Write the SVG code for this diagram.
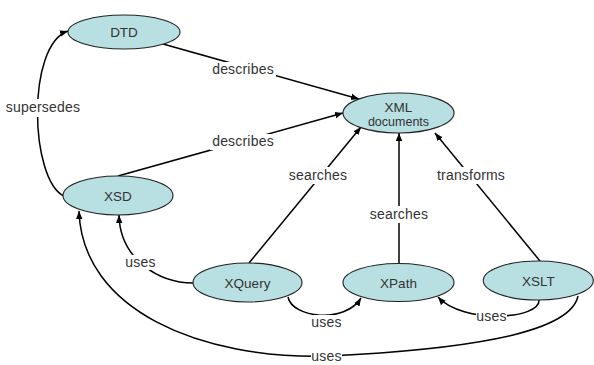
<svg xmlns="http://www.w3.org/2000/svg" width="594" height="365" viewBox="0 0 594 365">
<style>
.node ellipse{fill:#b8dfe2;stroke:#222;stroke-width:1.1}
.node text{font-family:"Liberation Sans",Arial,sans-serif;font-size:13.5px;fill:#333;text-anchor:middle}
.edges path{fill:none;stroke:#000;stroke-width:1.5;marker-end:url(#arr)}
.lbl rect{fill:#fff}
.lbl text{font-family:"Liberation Sans",Arial,sans-serif;font-size:14px;letter-spacing:0.2px;fill:#333;text-anchor:middle}
</style>
<defs>
<marker id="arr" markerUnits="userSpaceOnUse" markerWidth="9" markerHeight="8" refX="8" refY="4" orient="auto">
<path d="M0,0.8 L8,4 L0,7.2 Z" fill="#000"/>
</marker>
</defs>
<rect width="594" height="365" fill="#fff"/>
<g id="edges" class="edges">
<path d="M163,44 L359,99"/>
<path d="M118,176 L343,113"/>
<path d="M249,263 L361,127"/>
<path d="M399,263 L399,133"/>
<path d="M540,261 L435,133"/>
<path d="M64,196 C30,180 26,45 68,31"/>
<path d="M193,283 C160,283 120,260 119,215"/>
<path d="M288,297 C292,318 345,324 361,298"/>
<path d="M539,299 C542,320 462,324 438,297"/>
<path d="M578,296 C570,336 450,350 330,356 C200,360 82,310 79,211"/>
</g>
<g id="labels" class="lbl">
<rect x="210" y="62" width="66" height="16"/><text x="243" y="74">describes</text>
<rect x="210" y="134" width="66" height="16"/><text x="243" y="146">describes</text>
<rect x="5" y="99" width="76" height="18"/><text x="43" y="112">supersedes</text>
<rect x="287" y="167" width="62" height="17"/><text x="318" y="180">searches</text>
<rect x="435" y="167" width="72" height="17"/><text x="471" y="180">transforms</text>
<rect x="368" y="206" width="62" height="17"/><text x="399" y="219">searches</text>
<rect x="125" y="255" width="31" height="15"/><text x="140.5" y="267">uses</text>
<rect x="311" y="315" width="31" height="15"/><text x="326.5" y="327">uses</text>
<rect x="476" y="309" width="31" height="15"/><text x="491.5" y="321">uses</text>
<rect x="311" y="350" width="31" height="15"/><text x="326.5" y="361">uses</text>
</g>
<g id="DTD" class="node"><ellipse cx="124" cy="32" rx="56" ry="17"/><text x="124" y="37">DTD</text></g>
<g id="XSD" class="node"><ellipse cx="118" cy="195.5" rx="55" ry="19.5"/><text x="118" y="201">XSD</text></g>
<g id="XML" class="node"><ellipse cx="398.5" cy="113" rx="55.5" ry="20"/><text x="398.5" y="112">XML</text><text x="398.5" y="126" style="font-size:12.5px">documents</text></g>
<g id="XQuery" class="node"><ellipse cx="247.5" cy="282.5" rx="54.5" ry="19.5"/><text x="247.5" y="288">XQuery</text></g>
<g id="XPath" class="node"><ellipse cx="398.5" cy="282.5" rx="55.5" ry="19"/><text x="398.5" y="288">XPath</text></g>
<g id="XSLT" class="node"><ellipse cx="538.3" cy="280.5" rx="55" ry="19.5"/><text x="538.3" y="286">XSLT</text></g>
</svg>
